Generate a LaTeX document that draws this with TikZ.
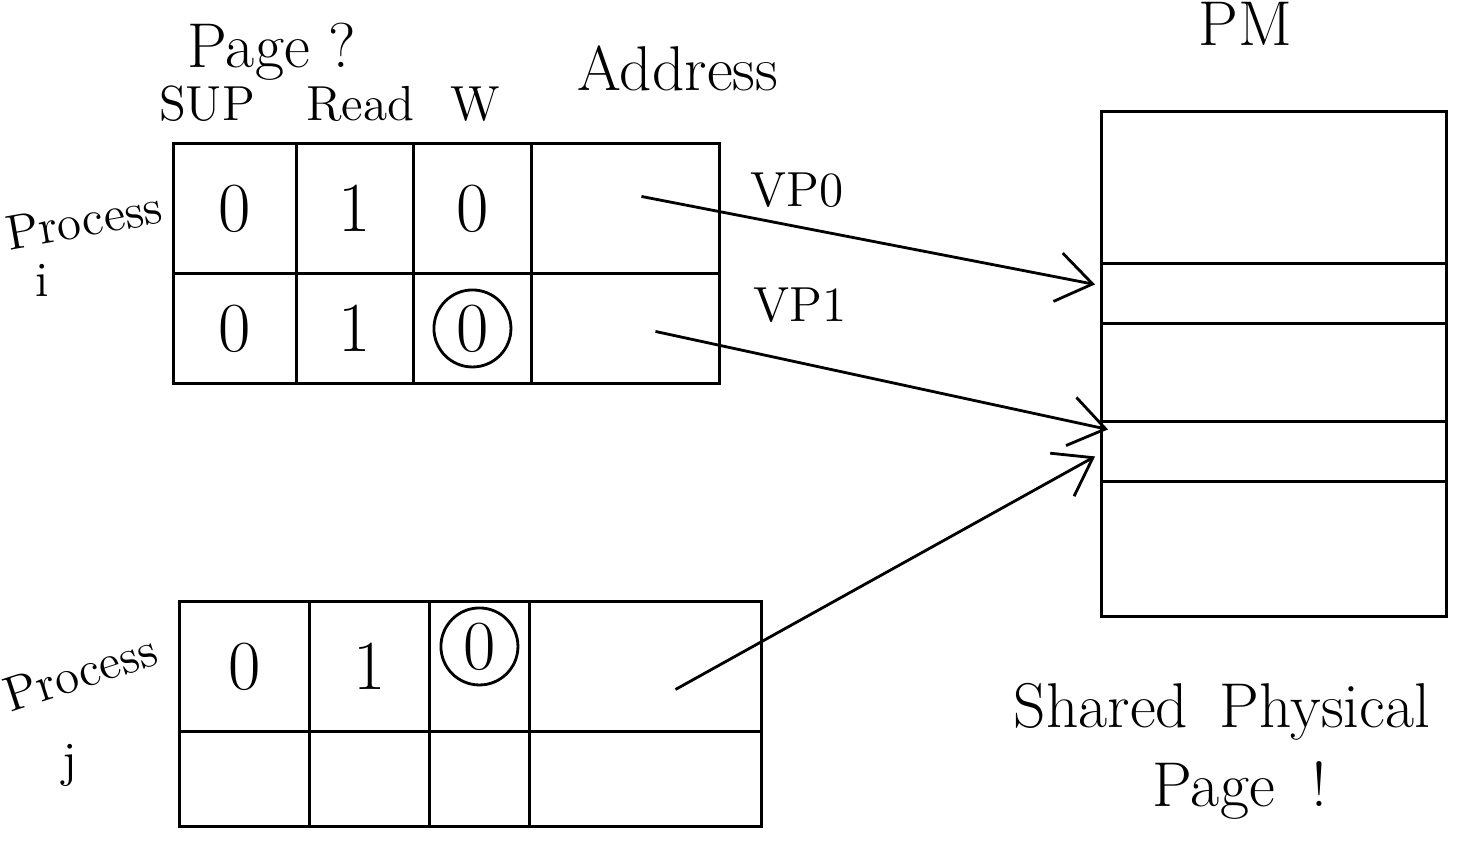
\documentclass[tikz,border=0pt]{standalone}
\usetikzlibrary{arrows, arrows.meta, positioning}

\begin{document}
\begin{tikzpicture}[
  x=0.01cm, y=-0.01cm, thick,
  cell/.style={draw, rectangle, anchor=north west, inner sep=0pt, font=\fontsize{20}{24}\selectfont},
  circled/.style={draw, circle, inner sep=2pt, font=\fontsize{20}{24}\selectfont},
  slot/.style={draw, rectangle, anchor=north west, inner sep=0pt, minimum width=3.45cm},
  lbl/.style={font=\fontsize{14}{17}\selectfont},
  big/.style={font=\fontsize{18}{22}\selectfont},
  ptr/.style={-{Straight Barb[length=10pt,width=14pt]}}]

  \useasboundingbox (0,0) rectangle (1471,859);

  % process i page table
  \node[cell, minimum width=1.23cm, minimum height=1.30cm] (i00) at (172,142) {0};
  \node[cell, minimum width=1.17cm, minimum height=1.30cm] (i01) at (295,142) {1};
  \node[cell, minimum width=1.18cm, minimum height=1.30cm] (i02) at (412,142) {0};
  \node[cell, minimum width=1.88cm, minimum height=1.30cm] (i03) at (530,142) {};
  \node[cell, minimum width=1.23cm, minimum height=1.10cm] (i10) at (172,272) {0};
  \node[cell, minimum width=1.17cm, minimum height=1.10cm] (i11) at (295,272) {1};
  \node[cell, minimum width=1.18cm, minimum height=1.10cm] (i12) at (412,272) {};
  \node[cell, minimum width=1.88cm, minimum height=1.10cm] (i13) at (530,272) {};
  \node[circled] (i12v) at (i12) {0};

  % process j page table
  \node[cell, minimum width=1.30cm, minimum height=1.30cm] (j00) at (178,600) {0};
  \node[cell, minimum width=1.20cm, minimum height=1.30cm] (j01) at (308,600) {1};
  \node[cell, minimum width=1.00cm, minimum height=1.30cm] (j02) at (428,600) {};
  \node[cell, minimum width=2.32cm, minimum height=1.30cm] (j03) at (528,600) {};
  \node[cell, minimum width=1.30cm, minimum height=0.95cm] (j10) at (178,730) {};
  \node[cell, minimum width=1.20cm, minimum height=0.95cm] (j11) at (308,730) {};
  \node[cell, minimum width=1.00cm, minimum height=0.95cm] (j12) at (428,730) {};
  \node[cell, minimum width=2.32cm, minimum height=0.95cm] (j13) at (528,730) {};
  \node[circled] (j02v) at ([yshift=0.2cm]j02) {0};

  % physical memory
  \node[slot, minimum height=1.52cm] (s0) at (1100,110) {};
  \node[slot, minimum height=0.60cm] (s1) at (1100,262) {};
  \node[slot, minimum height=0.98cm] (s2) at (1100,322) {};
  \node[slot, minimum height=0.60cm] (s3) at (1100,420) {};
  \node[slot, minimum height=1.35cm] (s4) at (1100,480) {};

  % labels
  \node[big] (pm) at (1245,24) {PM};
  \node[big] (page) at (272,52) {Page ?};
  \node[lbl] (sup) at (207,104) {SUP};
  \node[lbl] (read) at (360,104) {Read};
  \node[lbl] (w) at (475,104) {W};
  \node[big] (addr) at (678,68) {Address};
  \node[lbl, rotate=10] (proci) at (84,220) {Process};
  \node[lbl] (i) at (42,280) {i};
  \node[lbl, rotate=18] (procj) at (80,672) {Process};
  \node[lbl] (j) at (70,765) {j};
  \node[lbl] (vp0) at (797,190) {VP0};
  \node[lbl] (vp1) at (800,305) {VP1};
  \node[big] (shared) at (1222,712) {Shared\enspace Physical};
  \node[big] (spage) at (1240,790) {Page \;!};

  % mappings
  \draw[ptr] ([shift={(16,-12)}]i03.center) -- ([shift={(-5,-9)}]s1.west);
  \draw[ptr] ([shift={(30,3)}]i13.center) -- ([shift={(8,-22)}]s3.west);
  \draw[ptr] ([shift={(30,23)}]j03.center) -- ([shift={(-5,5)}]s3.west);
\end{tikzpicture}
\end{document}
